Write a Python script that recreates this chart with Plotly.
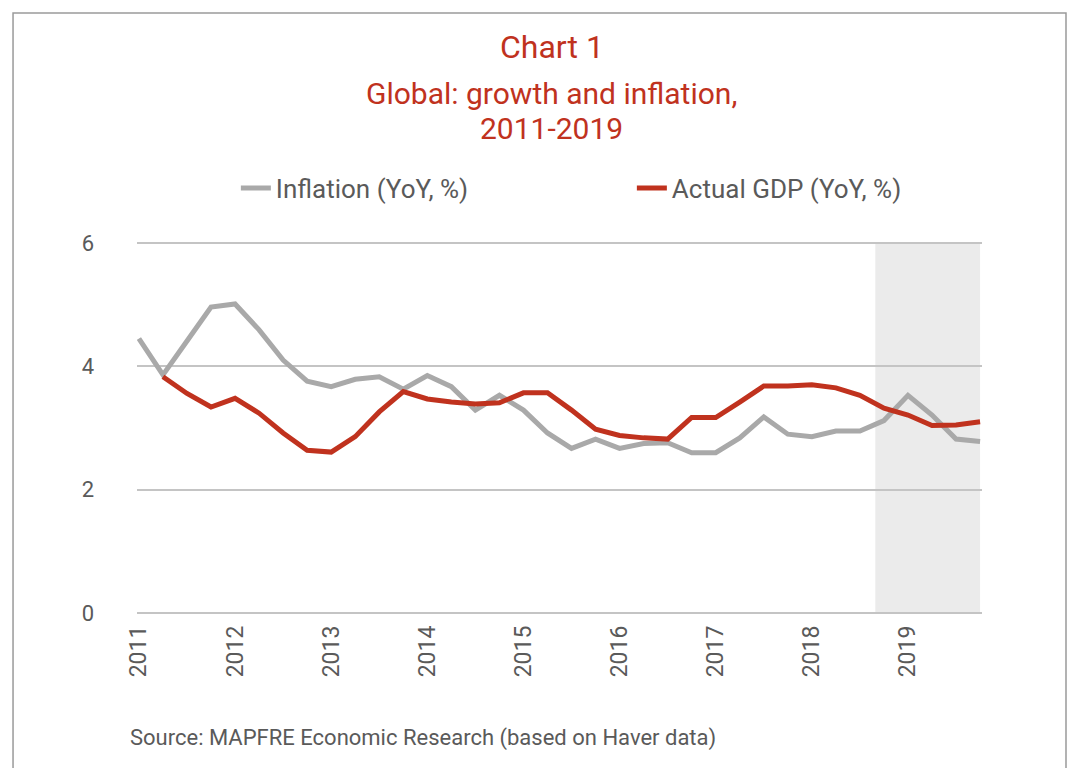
import plotly.graph_objects as go

# Quarterly data 2011Q1 - 2019Q4 (x as fractional years)
quarters = [2011 + i * 0.25 for i in range(36)]
inflation = [4.45, 3.86, 4.41, 4.96, 5.01, 4.59, 4.10, 3.76, 3.67, 3.79, 3.83, 3.63,
             3.85, 3.67, 3.29, 3.53, 3.29, 2.92, 2.67, 2.82, 2.67, 2.75, 2.76, 2.60,
             2.60, 2.84, 3.18, 2.90, 2.86, 2.95, 2.95, 3.12, 3.53, 3.21, 2.82, 2.78]
gdp = [None, 3.83, 3.56, 3.34, 3.48, 3.24, 2.92, 2.64, 2.61, 2.86, 3.26, 3.59,
       3.47, 3.42, 3.39, 3.41, 3.57, 3.57, 3.29, 2.98, 2.88, 2.84, 2.82, 3.17,
       3.17, 3.42, 3.68, 3.68, 3.70, 3.65, 3.53, 3.32, 3.21, 3.04, 3.05, 3.10]
year_ticks = [2011, 2012, 2013, 2014, 2015, 2016, 2017, 2018, 2019]
year_labels = [str(y) for y in year_ticks]
y_ticks = [0, 2, 4, 6]
forecast_start = 2018.66
forecast_end = 2019.75

RED = "#c0321e"
GRAY = "#a9a9a9"
TEXT = "#5a5a5a"
FONT = "Roboto"

fig = go.Figure()
fig.add_trace(go.Scatter(x=quarters, y=inflation, mode="lines", name="Inflation (YoY, %)",
                         line=dict(color=GRAY, width=5)))
fig.add_trace(go.Scatter(x=quarters, y=gdp, mode="lines", name="Actual GDP (YoY, %)",
                         line=dict(color=RED, width=5)))

# forecast shading
fig.add_shape(type="rect", xref="x", yref="y", x0=forecast_start, x1=forecast_end,
              y0=0, y1=6, fillcolor="#ebebeb", line=dict(width=0), layer="below")
# outer frame
fig.add_shape(type="rect", xref="paper", yref="paper", x0=-0.1467, x1=1.0994,
              y0=-0.6, y1=1.6096, line=dict(color="#9a9a9a", width=1.5))

fig.add_annotation(text="Chart 1", xref="paper", yref="paper", x=0.491, y=1.5187,
                   showarrow=False, font=dict(family=FONT, size=32, color=RED),
                   xanchor="center", yanchor="middle")
fig.add_annotation(text="Global: growth and inflation,", xref="paper", yref="paper",
                   x=0.491, y=1.3957, showarrow=False,
                   font=dict(family=FONT, size=30, color=RED), xanchor="center", yanchor="middle")
fig.add_annotation(text="2011-2019", xref="paper", yref="paper", x=0.491, y=1.3021,
                   showarrow=False, font=dict(family=FONT, size=30, color=RED),
                   xanchor="center", yanchor="middle")
fig.add_annotation(text="Source: MAPFRE Economic Research (based on Haver data)",
                   xref="paper", yref="paper", x=-0.0107, y=-0.3289, showarrow=False,
                   font=dict(family=FONT, size=22, color=TEXT), xanchor="left", yanchor="middle")

fig.update_layout(
    width=1060, height=760,
    margin=dict(l=129, r=86, t=233, b=153),
    paper_bgcolor="white", plot_bgcolor="white",
    font=dict(family=FONT, color=TEXT),
    showlegend=True,
    legend=dict(orientation="h", x=0.117, y=1.1417, xanchor="left", yanchor="middle",
                entrywidth=351, entrywidthmode="pixels",
                font=dict(family=FONT, size=26, color=TEXT), bgcolor="rgba(0,0,0,0)"),
    xaxis=dict(range=[2010.98, 2019.77], tickvals=year_ticks, ticktext=year_labels,
               tickangle=-90, showgrid=False, zeroline=False, showline=False,
               tickfont=dict(family=FONT, size=23, color=TEXT), ticks="", ticklabelstandoff=5),
    yaxis=dict(range=[-0.03, 6.03], tickvals=y_ticks, showgrid=True, gridcolor="#c4c4c4",
               gridwidth=1.5, zeroline=False, showline=False, ticks="",
               tickfont=dict(family=FONT, size=22, color=TEXT), ticklabelstandoff=42),
)

fig.write_html("out.html")
